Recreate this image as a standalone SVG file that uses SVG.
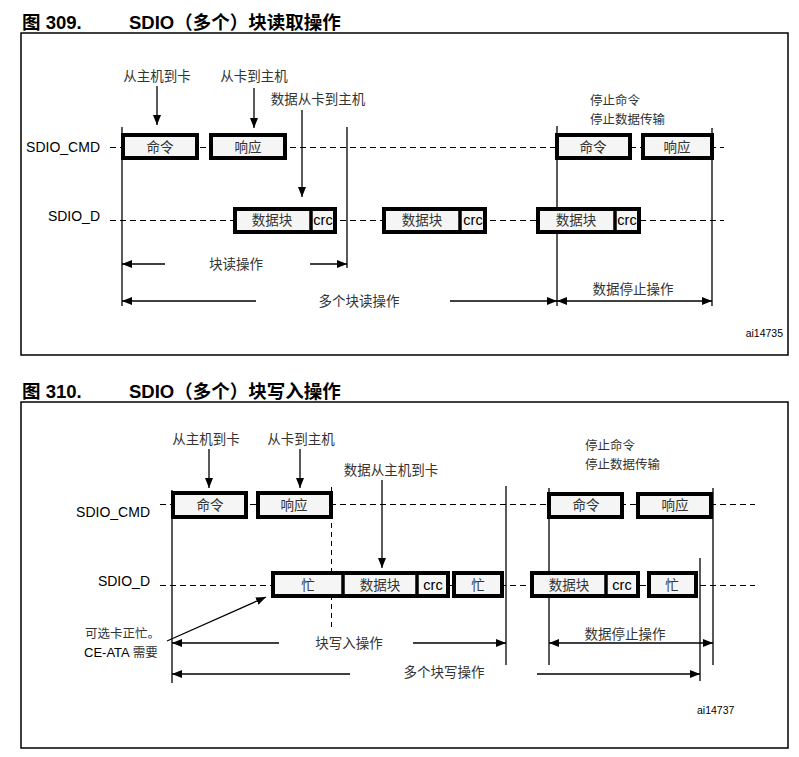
<svg xmlns="http://www.w3.org/2000/svg" width="799" height="757" viewBox="0 0 799 757">
<defs>
<marker id="ah" viewBox="0 0 10 8" refX="10" refY="4" markerWidth="10" markerHeight="8" markerUnits="userSpaceOnUse" orient="auto-start-reverse">
<path d="M0,0 L10,4 L0,8 z" fill="#000"/>
</marker>
</defs>
<style>
.frame{fill:none;stroke:#000;stroke-width:1.5}
.box{fill:#f4f5f4;stroke:#000;stroke-width:4}
.div{stroke:#000;stroke-width:3.5}
.dash{stroke:#000;stroke-width:1;stroke-dasharray:6,4;fill:none}
.vl{stroke:#000;stroke-width:1.3;fill:none}
.arr{stroke:#000;stroke-width:1.3;fill:none;marker-end:url(#ah)}
.title{font-family:"Liberation Sans","Noto Sans CJK SC",sans-serif;font-weight:bold;font-size:18.5px;fill:#000}
.cj{font-family:"Noto Sans CJK SC",sans-serif;font-size:13.5px;fill:#333}
.cs{font-family:"Noto Sans CJK SC",sans-serif;font-size:12.5px;fill:#333}
.lat{font-family:"Liberation Sans","Noto Sans CJK SC",sans-serif;font-size:14px;fill:#000}
.crc{font-family:"Liberation Sans",sans-serif;font-size:14.5px;fill:#000}
.ai{font-family:"Liberation Sans",sans-serif;font-size:10.5px;fill:#000}
.m{text-anchor:middle}
.e{text-anchor:end}
</style>

<!-- Figure 309 -->
<text class="title" x="22" y="29">图 309.</text>
<text class="title" x="129" y="29">SDIO（多个）块读取操作</text>
<rect class="frame" x="21" y="33" width="767" height="322"/>

<g id="connectors309">
<line class="dash" x1="110" y1="147.5" x2="724" y2="147.5"/>
<line class="dash" x1="110" y1="220.5" x2="724" y2="220.5"/>
<line class="arr" x1="157" y1="86" x2="157" y2="125"/>
<line class="arr" x1="254" y1="88" x2="254" y2="128"/>
<line class="arr" x1="302" y1="110" x2="302" y2="197"/>
<line class="vl" x1="122" y1="127" x2="122" y2="306"/>
<line class="vl" x1="347" y1="127" x2="347" y2="268"/>
<line class="vl" x1="557" y1="126" x2="557" y2="306"/>
<line class="vl" x1="712" y1="128" x2="712" y2="306"/>
<line class="arr" x1="165" y1="264" x2="122" y2="264"/>
<line class="arr" x1="310" y1="264" x2="347" y2="264"/>
<line class="arr" x1="256" y1="301" x2="122" y2="301"/>
<line class="arr" x1="450" y1="301" x2="557" y2="301"/>
<line class="arr" x1="635" y1="301" x2="557" y2="301"/>
<line class="arr" x1="635" y1="301" x2="712" y2="301"/>
</g>

<g id="labels309">
<text class="cj m" x="157" y="81">从主机到卡</text>
<text class="cj m" x="254" y="81">从卡到主机</text>
<text class="cj m" x="318" y="104">数据从卡到主机</text>
<text class="cs" x="590" y="105">停止命令</text>
<text class="cs" x="590" y="123.5">停止数据传输</text>
<text class="lat e" x="100" y="152">SDIO_CMD</text>
<text class="lat e" x="100" y="221">SDIO_D</text>
<text class="cj m" x="236" y="269">块读操作</text>
<text class="cj m" x="359" y="306">多个块读操作</text>
<text class="cj m" x="633" y="294">数据停止操作</text>
<text class="ai e" x="783" y="337">ai14735</text>
</g>

<g id="cmd309a"><rect class="box" x="123" y="135" width="74" height="23"/><text class="cj m" x="160" y="152">命令</text></g>
<g id="resp309a"><rect class="box" x="211" y="135" width="74" height="23"/><text class="cj m" x="248" y="152">响应</text></g>
<g id="data309a"><rect class="box" x="235" y="209" width="100" height="23"/><line class="div" x1="311" y1="209" x2="311" y2="232"/><text class="cj m" x="272" y="225">数据块</text><text class="crc m" x="323" y="225">crc</text></g>
<g id="data309b"><rect class="box" x="384" y="209" width="101" height="23"/><line class="div" x1="460" y1="209" x2="460" y2="232"/><text class="cj m" x="422" y="225">数据块</text><text class="crc m" x="473" y="225">crc</text></g>
<g id="data309c"><rect class="box" x="538" y="209" width="101" height="23"/><line class="div" x1="615" y1="209" x2="615" y2="232"/><text class="cj m" x="576" y="225">数据块</text><text class="crc m" x="627" y="225">crc</text></g>
<g id="cmd309b"><rect class="box" x="557" y="135" width="73" height="23"/><text class="cj m" x="593" y="152">命令</text></g>
<g id="resp309b"><rect class="box" x="643" y="135" width="69" height="23"/><text class="cj m" x="677" y="152">响应</text></g>

<!-- Figure 310 -->
<text class="title" x="22" y="398">图 310.</text>
<text class="title" x="129" y="398">SDIO（多个）块写入操作</text>
<rect class="frame" x="21" y="402" width="767" height="346"/>

<g id="connectors310">
<line class="dash" x1="160" y1="504.5" x2="755" y2="504.5"/>
<line class="dash" x1="160" y1="585.5" x2="755" y2="585.5"/>
<line class="arr" x1="209" y1="449" x2="209" y2="488"/>
<line class="arr" x1="300" y1="449" x2="300" y2="488"/>
<line class="arr" x1="382" y1="480" x2="382" y2="568"/>
<line class="vl" x1="172" y1="490" x2="172" y2="683"/>
<line class="dash" x1="331.5" y1="487" x2="331.5" y2="627" style="stroke-dasharray:5,4"/>
<line class="vl" x1="506" y1="486" x2="506" y2="665"/>
<line class="vl" x1="549" y1="488" x2="549" y2="665"/>
<line class="vl" x1="713" y1="488" x2="713" y2="665"/>
<line class="vl" x1="700" y1="558" x2="700" y2="681"/>
<line class="arr" x1="167" y1="641" x2="266" y2="597"/>
<line class="arr" x1="279" y1="643" x2="172" y2="643"/>
<line class="arr" x1="413" y1="643" x2="506" y2="643"/>
<line class="arr" x1="350" y1="674" x2="172" y2="674"/>
<line class="arr" x1="537" y1="674" x2="700" y2="674"/>
<line class="arr" x1="630" y1="643" x2="549" y2="643"/>
<line class="arr" x1="630" y1="643" x2="713" y2="643"/>
</g>

<g id="labels310">
<text class="cj m" x="206" y="444">从主机到卡</text>
<text class="cj m" x="301" y="444">从卡到主机</text>
<text class="cj m" x="391" y="475">数据从主机到卡</text>
<text class="cs" x="585" y="450">停止命令</text>
<text class="cs" x="585" y="468.5">停止数据传输</text>
<text class="lat e" x="150" y="517">SDIO_CMD</text>
<text class="lat e" x="150" y="586">SDIO_D</text>
<text class="cs" x="85" y="638">可选卡正忙。</text>
<text class="lat" x="84" y="657" style="font-size:13px">CE-ATA <tspan style="font-family:'Noto Sans CJK SC',sans-serif;fill:#333;font-size:12.5px">需要</tspan></text>
<text class="cj m" x="349" y="648">块写入操作</text>
<text class="cj m" x="444" y="677">多个块写操作</text>
<text class="cj m" x="625" y="639">数据停止操作</text>
<text class="ai" x="697" y="714">ai14737</text>
</g>

<g id="cmd310a"><rect class="box" x="173" y="493" width="73" height="24"/><text class="cj m" x="210" y="510">命令</text></g>
<g id="resp310a"><rect class="box" x="258" y="493" width="73" height="24"/><text class="cj m" x="294" y="510">响应</text></g>
<g id="data310a"><rect class="box" x="273" y="573" width="175" height="23"/><line class="div" x1="343" y1="573" x2="343" y2="596"/><line class="div" x1="417" y1="573" x2="417" y2="596"/><text class="cj m" x="308" y="590">忙</text><text class="cj m" x="380" y="590">数据块</text><text class="crc m" x="433" y="590">crc</text></g>
<g id="busy310a"><rect class="box" x="454" y="573" width="48" height="23"/><text class="cj m" x="478" y="590">忙</text></g>
<g id="data310b"><rect class="box" x="532" y="573" width="106" height="23"/><line class="div" x1="606" y1="573" x2="606" y2="596"/><text class="cj m" x="569" y="590">数据块</text><text class="crc m" x="622" y="590">crc</text></g>
<g id="busy310b"><rect class="box" x="649" y="573" width="47" height="23"/><text class="cj m" x="672" y="590">忙</text></g>
<g id="cmd310b"><rect class="box" x="549" y="494" width="73" height="23"/><text class="cj m" x="586" y="510">命令</text></g>
<g id="resp310b"><rect class="box" x="638" y="494" width="73" height="23"/><text class="cj m" x="675" y="510">响应</text></g>
</svg>
